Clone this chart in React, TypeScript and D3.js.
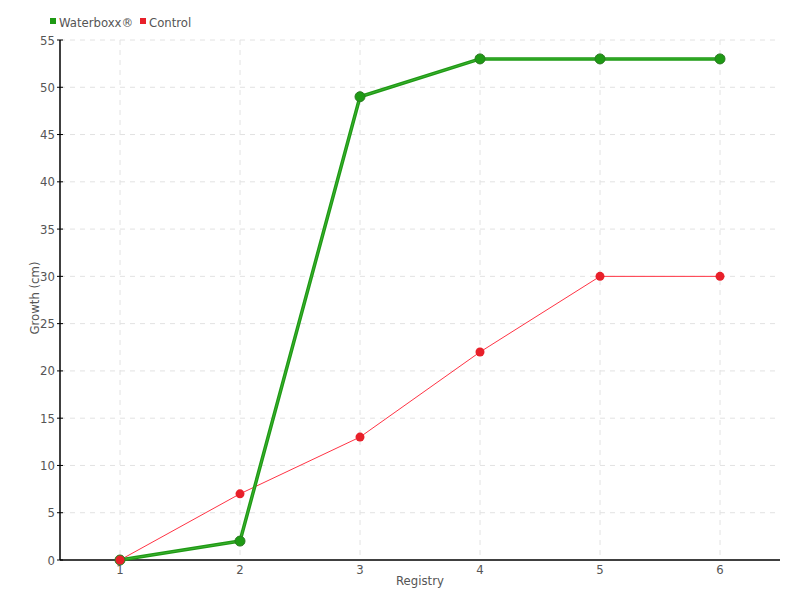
import React from "react";
import * as d3 from "d3";

const categories = [1, 2, 3, 4, 5, 6];
const waterboxx = [0, 2, 49, 53, 53, 53];
const control = [0, 7, 13, 22, 30, 30];
const yTicks = [0, 5, 10, 15, 20, 25, 30, 35, 40, 45, 50, 55];
const seriesNames = ["Waterboxx®", "Control"];

const W = 800, H = 600;
const left = 60, right = 780, top = 40, bottom = 560;
const FONT = "'DejaVu Sans Condensed', 'DejaVu Sans', sans-serif";

export default function App() {
  const x = d3.scaleLinear().domain([0.5, 6.5]).range([left, right]);
  const y = d3.scaleLinear().domain([0, 55]).range([bottom, top]);
  const line = d3.line<number>().x((_, i) => x(categories[i])).y((d) => y(d));

  return (
    <svg width={W} height={H} style={{ position: "absolute", left: 0, top: 0, background: "#fff" }}>
      {/* grid */}
      {yTicks.filter((t) => t > 0).map((t) => (
        <line key={"gy" + t} x1={left} x2={right} y1={y(t)} y2={y(t)} stroke="#e2e2e2" strokeDasharray="5,5" />
      ))}
      {categories.map((c) => (
        <line key={"gx" + c} x1={x(c)} x2={x(c)} y1={top} y2={bottom} stroke="#e2e2e2" strokeDasharray="5,5" />
      ))}
      {/* axes */}
      <line x1={left} x2={left} y1={top} y2={bottom} stroke="#000" strokeWidth={1.5} />
      <line x1={left} x2={right} y1={bottom} y2={bottom} stroke="#000" strokeWidth={1.5} />
      {yTicks.map((t) => (
        <g key={"ty" + t}>
          <line x1={left - 3} x2={left + 3} y1={y(t)} y2={y(t)} stroke="#000" />
          <text x={left - 5} y={y(t)} dy="0.35em" textAnchor="end" fontFamily={FONT} fontSize={13} fill="#555">{t}</text>
        </g>
      ))}
      {categories.map((c) => (
        <text key={"tx" + c} x={x(c)} y={bottom + 14} textAnchor="middle" fontFamily={FONT} fontSize={13} fill="#555">{c}</text>
      ))}
      <text x={420} y={585} textAnchor="middle" fontFamily={FONT} fontSize={13} fill="#555">Registry</text>
      <text transform={`translate(39,298) rotate(-90)`} textAnchor="middle" fontFamily={FONT} fontSize={13} fill="#555">Growth (cm)</text>

      {/* control */}
      <path d={line(control) || ""} fill="none" stroke="#ff3344" strokeWidth={1} />
      {control.map((v, i) => (
        <circle key={"c" + i} cx={x(categories[i])} cy={y(v)} r={4.5} fill="#e8202a" />
      ))}
      {/* waterboxx */}
      <path d={line(waterboxx) || ""} fill="none" stroke="#1e9a14" strokeWidth={3.5} strokeLinejoin="round" />
      <path d={line(waterboxx) || ""} fill="none" stroke="#3cb030" strokeWidth={1} />
      {waterboxx.map((v, i) => (
        <circle key={"w" + i} cx={x(categories[i])} cy={y(v)} r={5} fill="#1e9a14" stroke="#2b7a22" strokeWidth={1} />
      ))}
      <circle cx={x(1)} cy={y(0)} r={4.5} fill="#e8202a" />

      {/* legend */}
      <rect x={50} y={18} width={6} height={6} fill="#1e9a14" />
      <text x={59} y={27} fontFamily={FONT} fontSize={13} fill="#555">{seriesNames[0]}</text>
      <rect x={140} y={18} width={6} height={6} fill="#e8202a" />
      <text x={149} y={27} fontFamily={FONT} fontSize={13} fill="#555">{seriesNames[1]}</text>
    </svg>
  );
}
